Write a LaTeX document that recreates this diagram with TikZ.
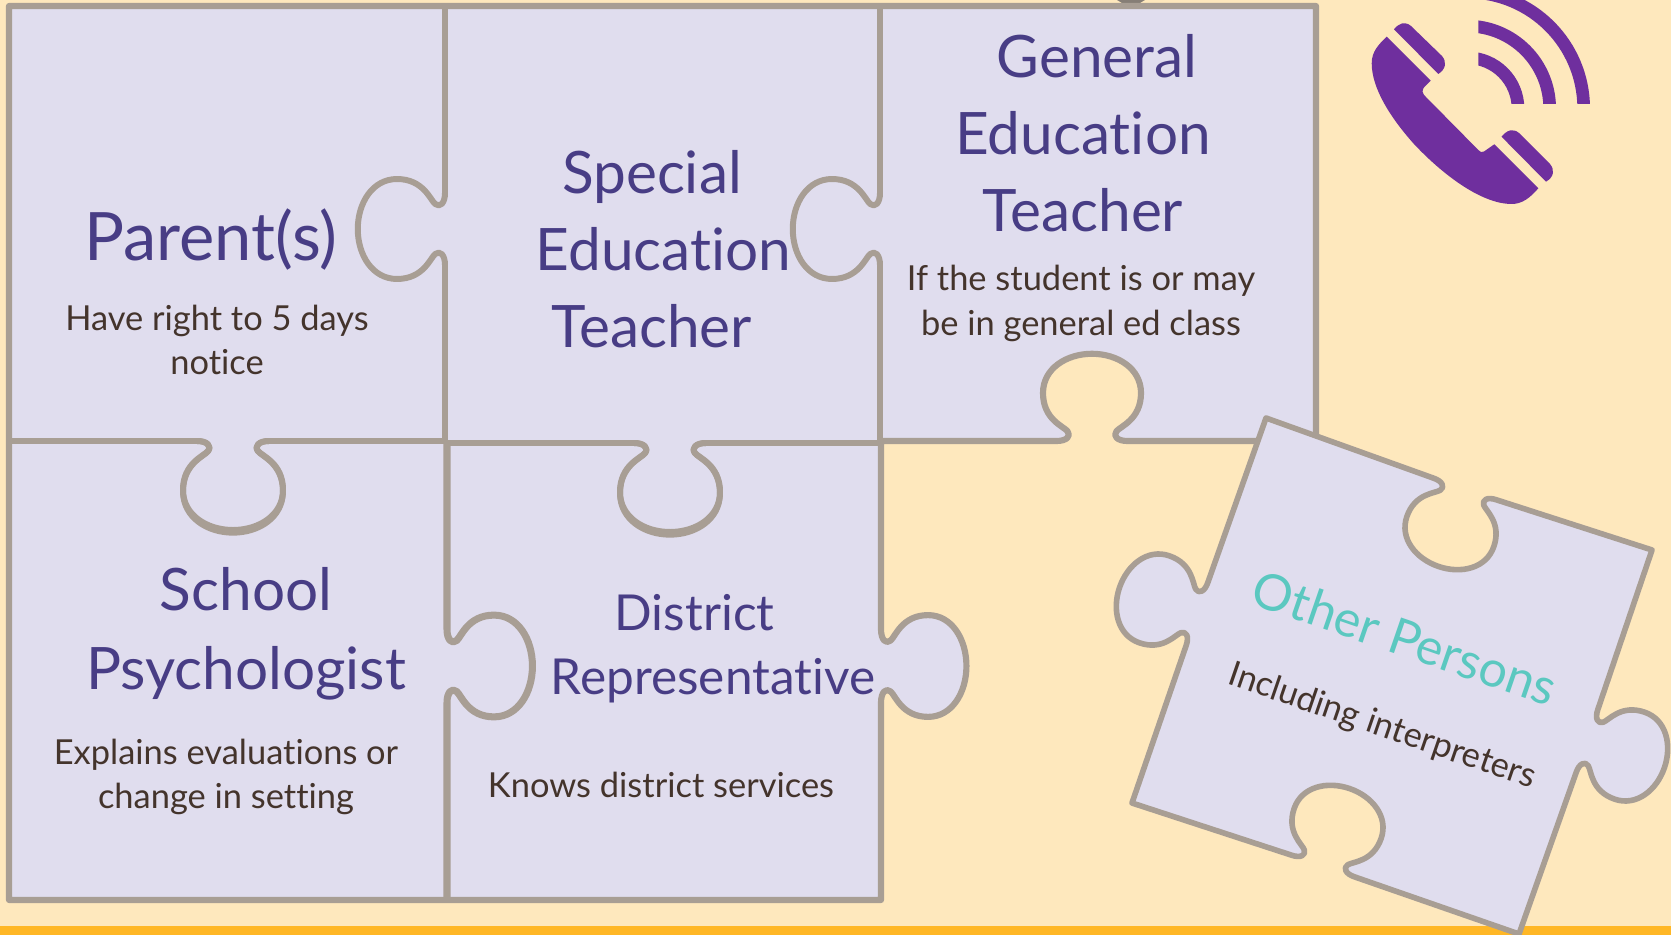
\documentclass[tikz,border=0pt]{standalone}
\usepackage{fontspec}
\setmainfont[Ligatures=NoCommon]{Lato}
\definecolor{sand}{HTML}{FEE8BD}
\definecolor{band}{HTML}{FFB726}
\definecolor{lilac}{HTML}{E0DDEE}
\definecolor{edge}{HTML}{A89E94}
\definecolor{ink}{HTML}{483D85}
\definecolor{brown}{HTML}{44342C}
\definecolor{teal}{HTML}{5BC8C0}
\definecolor{phone}{HTML}{6F2F9E}
\tikzset{
    piece/.style={fill=lilac,draw=edge,line width=3.5pt,line join=round},
    cut/.style={draw=edge,line width=3.4pt,line join=round},
    title/.style={text=ink,align=center,inner sep=0pt,font=\fontsize{33.3}{43.8}\selectfont},
    small title/.style={text=ink,align=center,inner sep=0pt,font=\fontsize{28.2}{36.4}\selectfont},
    note/.style={text=brown,align=center,inner sep=0pt,font=\fontsize{19.6}{25.5}\selectfont},
}
% one knob of a piece: size, middle of the edge, turn, direction of travel
\newcommand{\knob}[5]{{[shift={(#2,#3)},rotate=#4,xscale=#5,scale=#1]
    -- (-36,0) .. controls (-26,0) and (-21,5) .. (-25,10)
    .. controls (-29,15) and (-50,22) .. (-50,49)
    .. controls (-50,74) and (-26,89) .. (0,89)
    .. controls (26,89) and (50,74) .. (50,49)
    .. controls (50,22) and (29,15) .. (25,10)
    .. controls (21,5) and (26,0) .. (36,0)}}
\begin{document}
\begin{tikzpicture}[x=0.02cm,y=-0.02cm]
    \useasboundingbox (0,0) rectangle (1671,935);
    \clip (0,0) rectangle (1671,935);
    \fill[sand] (0,0) rectangle (1671,935);
    \fill[band] (0,926) rectangle (1671,935);
    \fill[edge!80!black] (1117,0) -- (1122,3) -- (1140,3) -- (1145,0) -- cycle;

    % the five pieces that fit together
    \draw[piece] (9,6) -- (1316,6) -- (1316,441) \knob{.98}{1092}{441}{180}{1} -- (881,441)
        \knob{.96}{881}{666}{90}{-1.06} -- (881,900) -- (9,900) -- cycle;
    \draw[cut] (445,6) \knob{.98}{445}{229}{-90}{1.02} -- (445,441);
    \draw[cut] (880,6) \knob{.98}{880}{229}{-90}{1.02} -- (880,441);
    \draw[cut,line width=4pt] (447,441) \knob{.96}{447}{666}{90}{-1.06} -- (447,900);
    \draw[cut] (9,441) \knob{1}{233}{441}{0}{1} -- (447,441);
    \draw[cut] (9,441) \knob{1.03}{233}{441}{0}{.97} -- (447,441);
    \draw[cut] (447,443) \knob{1}{670}{443}{0}{1} -- (880,443);
    \draw[cut] (447,443) \knob{1.03}{670}{443}{0}{.97} -- (880,443);

    % the loose piece
    \draw[piece,line width=3.2pt] (1266,418) \knob{.92}{1465}{489}{-19}{1} -- (1652,550)
        \knob{.92}{1587}{741}{71}{-1} -- (1519,934) \knob{.92}{1323}{866}{161}{1} -- (1132,803)
        \knob{.92}{1197}{614}{-109}{-1} -- cycle;

    % phone and its signal
    \fill[phone] (1386.7,36.7) -- (1430.7,80.7) -- (1423.5,88) .. controls (1422,90) and (1422,93) .. (1424,95)
        -- (1478.3,150) .. controls (1480,152) and (1482,153) .. (1484,151.5) -- (1494.3,144.3) -- (1538.3,188.3)
        .. controls (1530,198) and (1522,204) .. (1511.7,204)
        .. controls (1480,204) and (1440,172) .. (1413.3,143.3)
        .. controls (1390,117) and (1371.7,88) .. (1371.7,63.3)
        .. controls (1371.7,52) and (1378,45) .. (1386.7,36.7) -- cycle;
    \fill[phone] (1394,29.3) .. controls (1399,23) and (1405,21) .. (1411,26) -- (1442,56)
        .. controls (1447,62) and (1446,69) .. (1438.3,74) -- cycle;
    \fill[phone] (1501.5,136.7) .. controls (1507,130) and (1513,128) .. (1519,133) -- (1550,164)
        .. controls (1555,170) and (1554,177) .. (1546,181.7) -- cycle;
    \begin{scope}
        \clip (1478.3,0) rectangle (1600,103.3);
        \foreach \r in {50.7,82.4,116.4}
            \draw[phone,line width=7.2pt] (1467.3,108.5) circle[radius=\r];
    \end{scope}

    % texts
    \node[title,font=\fontsize{38}{44}\selectfont] (parent) at (211,240) {Parent(s)};
    \node[note] (parentnote) at (217,340) {Have right to 5 days\\notice};
    \node[title] (special) at (652,249) {Special\\\hspace*{13pt}Education\\Teacher};
    \node[title] (general) at (1083,133) {\hspace*{16pt}General\\Education\\Teacher};
    \node[note] (generalnote) at (1081,303.5) {If the student is or may\\be in general ed class};
    \node[title] (psych) at (246,634) {School\\[1pt]Psychologist};
    \node[note] (psychnote) at (226,777) {Explains evaluations or\\change in setting};
    \node[small title] (district) at (713,649) {\hspace*{-21pt}District\\Representative};
    \node[note] (districtnote) at (661,785) {Knows district services};
    \node[title,text=teal,font=\fontsize{28.6}{36}\selectfont,rotate=-19] (other) at (1405,638) {Other Persons};
    \node[note,rotate=-19] (othernote) at (1382,727) {Including interpreters};
\end{tikzpicture}
\end{document}
